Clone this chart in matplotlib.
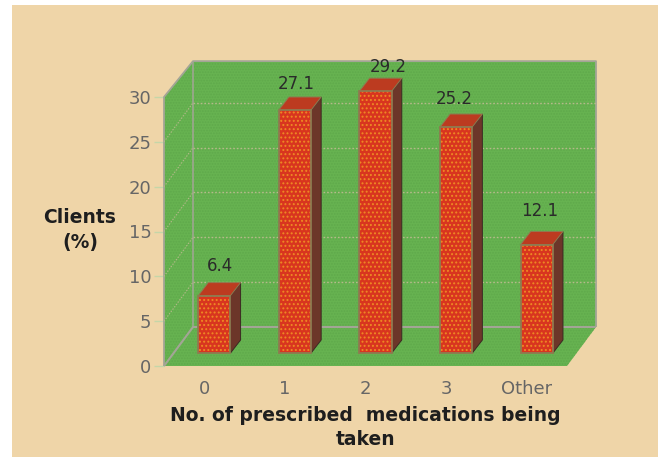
import numpy as np
import matplotlib
matplotlib.use("Agg")
import matplotlib.pyplot as plt
from matplotlib.patches import Polygon, Rectangle

# Survey values
categories = ["0", "1", "2", "3", "Other"]
clients_pct = [6.4, 27.1, 29.2, 25.2, 12.1]
y_ticks = [0, 5, 10, 15, 20, 25, 30]
x_title = "No. of prescribed  medications being\ntaken"
y_title = "Clients\n(%)"

# Pseudo-3D geometry, in axis units
WALL_DX, WALL_DY = 0.36, 4.35
WALL_TOP_DY = 4.0
BAR_DX, BAR_DY = 0.125, 1.45
BAR_W = 0.40

# Colours
PEACH = "#EFD5A8"
GREEN = "#67B351"
GREEN_DOT = "#5FA94B"
WALL_EDGE = "#A3A596"
GRID = "#B5B98A"
RED = "#D8351F"
DOT = "#EE8A24"
TOP = "#BC3B20"
SIDE = "#6C3629"
BAR_EDGE = "#8F7A50"

plt.rcParams["font.family"] = ["DejaVu Sans"]
plt.rcParams["hatch.linewidth"] = 0.9

W, H = 658, 457
fig = plt.figure(figsize=(W / 100, H / 100), dpi=100, facecolor="white")

# Peach panel behind the plot, leaving a thin white margin on the left and top
fig.add_artist(Rectangle((12 / W, 0), 1 - 12 / W, 1 - 5 / H, transform=fig.transFigure,
                         facecolor=PEACH, edgecolor="none", zorder=-5))

ax = fig.add_axes([164 / W, (H - 366) / H, 403 / W, 269 / H])
ax.patch.set_visible(False)
ax.set_xlim(-0.5, 4.5)
ax.set_ylim(0, 30)
for spine in ax.spines.values():
    spine.set_visible(False)

x0, x1 = ax.get_xlim()
y0, y1 = ax.get_ylim()
back_l, back_r = x0 + WALL_DX, x1 + WALL_DX
back_b, back_t = y0 + WALL_DY, y1 + WALL_TOP_DY


def green_face(points, z=1):
    ax.add_patch(Polygon(points, closed=True, facecolor=GREEN, edgecolor=GREEN_DOT,
                         hatch="......", lw=0, zorder=z, clip_on=False))


# Left wall, back wall, floor
green_face([(x0, y0), (x0, y1), (back_l, back_t), (back_l, back_b)])
green_face([(back_l, back_b), (back_l, back_t), (back_r, back_t), (back_r, back_b)])
green_face([(x0, y0), (x1, y0), (back_r, back_b), (back_l, back_b)])

# Wall outlines
edge = dict(color=WALL_EDGE, clip_on=False, zorder=2, solid_capstyle="butt")
ax.plot([x0, x0, back_l, back_r, back_r], [y0, y1, back_t, back_t, back_b], lw=1.3, **edge)
ax.plot([back_l, back_l], [back_t, back_b], lw=1.1, **edge)
ax.plot([x0, back_l, back_r], [y0, back_b, back_b], lw=1.5, **edge)

# Dotted gridlines across both walls
for t in y_ticks[1:-1]:
    ax.plot([back_l, back_r], [t + WALL_DY, t + WALL_DY], color=GRID, lw=1.0,
            ls=(0, (1.2, 1.4)), zorder=2, clip_on=False)
    ax.plot([x0, back_l], [t, t + WALL_DY], color=GRID, lw=0.8,
            ls=(0, (1.2, 1.4)), zorder=2, clip_on=False)

# Bars: hatched front face, then the side and top faces derived from the value
positions = np.arange(len(categories))
fronts = positions + BAR_DX
faces = ax.bar(fronts, clients_pct, width=BAR_W, bottom=BAR_DY, color=RED, edgecolor=DOT,
               hatch="....", lw=0, zorder=4)
rims = ax.bar(fronts, clients_pct, width=BAR_W, bottom=BAR_DY, fill=False, edgecolor=BAR_EDGE,
              lw=1.3, zorder=5)
for patch in list(faces) + list(rims):
    patch.set_clip_on(False)
for xc, v in zip(fronts, clients_pct):
    l, r = xc - BAR_W / 2, xc + BAR_W / 2
    b, t = BAR_DY, BAR_DY + v
    ax.add_patch(Polygon([(r, b), (r, t), (r + BAR_DX, t + BAR_DY), (r + BAR_DX, b + BAR_DY)],
                         closed=True, facecolor=SIDE, edgecolor="#3A2A22", lw=0.7, zorder=3,
                         clip_on=False))
    ax.add_patch(Polygon([(l, t), (r, t), (r + BAR_DX, t + BAR_DY), (l + BAR_DX, t + BAR_DY)],
                         closed=True, facecolor=TOP, edgecolor=BAR_EDGE, lw=0.7, zorder=3,
                         clip_on=False))

# Value labels sit above the back edge of each bar top
label_nudge = [(-3, 12), (-6, 9.5), (2, 8), (-9, 11), (-5, 15)]
for xc, v, (nx, ny) in zip(fronts, clients_pct, label_nudge):
    ax.annotate(f"{v:.1f}", (xc + BAR_DX, BAR_DY * 2 + v), xytext=(nx, ny),
                textcoords="offset points", ha="center", va="center",
                fontsize=12, color="#2A2A2A", zorder=6, annotation_clip=False)

# Axes furniture
ax.set_xticks(positions, categories)
ax.set_yticks(y_ticks)
ax.tick_params(axis="y", length=7, width=1, color="#C4D6A8", labelcolor="#666666",
               labelsize=13, pad=2)
ax.tick_params(axis="x", length=0, labelcolor="#666666", labelsize=13, pad=10)
ax.set_xlabel(x_title, fontsize=13.5, fontweight="bold", color="#1E1E1E", labelpad=6,
              linespacing=1.3)
ax.set_ylabel(y_title, fontsize=13.5, fontweight="bold", color="#1E1E1E", rotation=0,
              ha="center", va="center", linespacing=1.4)
ax.yaxis.set_label_coords((80 - 164) / 403, (366 - 230) / 269)

fig.savefig("out.png", dpi=100, facecolor="white")
